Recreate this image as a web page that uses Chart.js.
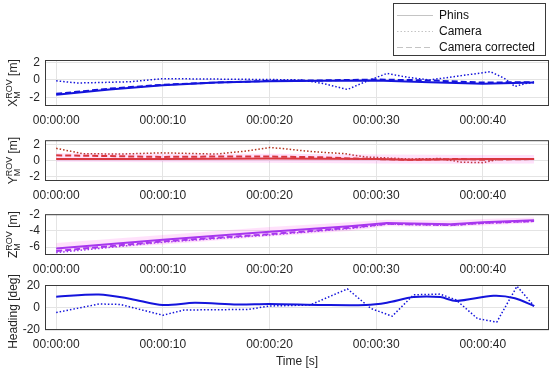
<!DOCTYPE html>
<html>
<head>
<meta charset="utf-8">
<script src="https://cdn.jsdelivr.net/npm/chart.js@4.4.0/dist/chart.umd.min.js"></script>
<style>
html, body { margin: 0; padding: 0; background: #fff; }
#wrap { position: relative; width: 550px; height: 373px; }
canvas { position: absolute; left: 0; }
</style>
</head>
<body>
<div id="wrap">
  <canvas id="cX" width="550" height="128" style="top:0px"></canvas>
  <canvas id="cY" width="550" height="75" style="top:128px"></canvas>
  <canvas id="cZ" width="550" height="75" style="top:202px"></canvas>
  <canvas id="cH" width="550" height="111" style="top:262px"></canvas>
</div>
<script>
var seriesNames = ['Phins', 'Camera', 'Camera corrected'];
var timeTicks = [0, 10, 20, 30, 40];

// X position
var xTicks = [-2, 0, 2];
var xPhinsT = [0, 5, 10, 15, 20, 25, 30, 35, 40, 44.8];
var xPhins = [-1.7, -1.1, -0.6, -0.3, -0.15, -0.1, -0.05, -0.25, -0.45, -0.3];
var xCorr = [-1.6, -1.0, -0.55, -0.3, -0.1, -0.05, 0.05, -0.05, -0.3, -0.25];
var xCamT = [0, 2, 4, 7, 10, 15, 20, 23, 25, 27.3, 29, 31, 33, 35, 38, 40.7, 42, 43, 44, 44.8];
var xCam = [-0.1, -0.35, -0.3, -0.2, 0.15, 0.1, 0.05, 0, -0.4, -1.1, -0.2, 0.75, 0.3, 0, 0.5, 0.95, 0.2, -0.75, -0.4, -0.3];

// Y position
var yTicks = [-2, 0, 2];
var yPhinsT = [0, 10, 20, 30, 33, 40, 44.8];
var yPhins = [0.2, 0.2, 0.25, 0.2, 0.1, 0.2, 0.2];
var yCorrT = [0, 5, 10, 15, 20, 25, 28, 33, 38, 40, 44.8];
var yCorr = [0.65, 0.55, 0.45, 0.5, 0.5, 0.4, 0.25, 0.1, 0.2, 0.1, 0.2];
var yCamT = [0, 2.5, 6, 10, 15, 18, 20, 21, 24, 27, 29, 33, 36, 38, 40, 41.4, 44.8];
var yCam = [1.5, 0.85, 0.8, 0.95, 0.8, 1.2, 1.6, 1.5, 1.1, 0.85, 0.45, 0.2, 0.25, -0.2, -0.25, 0.15, 0.2];
var yBandT = [0, 10, 20, 30, 40, 44.8];
var yBandHi = [0.9, 0.85, 0.85, 0.75, 0.7, 0.7];
var yBandLo = [-0.15, -0.2, -0.25, -0.35, -0.4, -0.35];

// Z position
var zTicks = [-6, -4, -2];
var zT = [0, 10, 20, 27.5, 31, 37, 40, 44.8];
var zPhins = [-6.2, -5.1, -4.1, -3.4, -3.0, -3.15, -2.9, -2.65];
var zCorr = [-6.5, -5.3, -4.4, -3.6, -3.1, -3.25, -3.0, -2.75];
var zCam = [-6.7, -5.4, -4.5, -3.7, -3.15, -3.3, -3.05, -2.8];
var zBandHi = [-5.5, -4.5, -3.5, -2.9, -2.6, -2.7, -2.5, -2.3];
var zBandLo = [-6.6, -5.7, -4.7, -4.0, -3.4, -3.5, -3.3, -3.0];

// Heading
var hTicks = [-20, 0, 20];
var hPhinsT = [0, 4, 7, 10, 13, 17, 20, 25, 29, 31, 33.5, 36, 37.5, 41, 43, 44.8];
var hPhins = [10, 12, 8, 2.5, 4.5, 3, 3.4, 2.5, 2.5, 4.6, 9.6, 9.6, 6.2, 10.8, 8.6, 1.6];
var hCamT = [0, 4, 6, 10, 12, 18, 20, 23.8, 27.3, 29.5, 31.5, 33.5, 36, 37.5, 39.5, 41.3, 43.2, 44.8];
var hCam = [-4.3, 3.4, 3, -6.7, -2, -1.5, 1.6, 2.5, 17, -0.6, -7.6, 11.7, 12.3, 7, -9.8, -12.9, 19.4, 1.6];

Chart.defaults.font.family = '"Liberation Sans", Arial, sans-serif';
Chart.defaults.font.size = 12;
Chart.defaults.color = '#262626';

function pts(t, v) {
    return t.map(function(x, i) { return {x: x, y: v[i]}; });
}

var dotted = [1.5, 2];
var dashed = [6, 3];
var bandColor = 'rgba(255, 80, 230, 0.17)';

var boxPlugin = {
    id: 'box',
    afterDraw: function(chart) {
        var a = chart.chartArea, ctx = chart.ctx;
        ctx.save();
        ctx.strokeStyle = '#3a3a3a';
        ctx.lineWidth = 1;
        ctx.strokeRect(a.left + 0.5, a.top + 0.5, a.right - a.left - 1, a.bottom - a.top - 1);
        ctx.restore();
    }
};

var yLabelPlugin = {
    id: 'ylab',
    afterDraw: function(chart, args, o) {
        if (!o || !o.main) return;
        var ctx = chart.ctx, a = chart.chartArea;
        var big = '12px "Liberation Sans", Arial, sans-serif';
        var small = '9px "Liberation Sans", Arial, sans-serif';
        ctx.save();
        ctx.fillStyle = '#262626';
        ctx.translate(14, (a.top + a.bottom) / 2 + (o.shift || 0));
        ctx.rotate(-Math.PI / 2);
        ctx.textBaseline = 'alphabetic';
        ctx.font = big;
        var wMain = ctx.measureText(o.main).width;
        var wUnit = ctx.measureText(o.unit || '').width;
        ctx.font = small;
        var wSm = Math.max(ctx.measureText(o.sup || '').width, ctx.measureText(o.sub || '').width);
        var x = -(wMain + wSm + wUnit) / 2;
        ctx.font = big;
        ctx.fillText(o.main, x, 3);
        x += wMain;
        ctx.font = small;
        if (o.sup) ctx.fillText(o.sup, x, -2);
        if (o.sub) ctx.fillText(o.sub, x, 5.5);
        x += wSm;
        ctx.font = big;
        if (o.unit) ctx.fillText(o.unit, x, 3);
        ctx.restore();
    }
};

var legendPlugin = {
    id: 'boxLegend',
    afterDraw: function(chart, args, o) {
        if (!o || !o.show) return;
        var ctx = chart.ctx;
        ctx.save();
        ctx.fillStyle = '#fff';
        ctx.fillRect(393, 3, 152, 52);
        ctx.strokeStyle = '#3a3a3a';
        ctx.lineWidth = 1;
        ctx.strokeRect(393.5, 3.5, 152, 52);
        var dashes = [[], dotted, dashed];
        ctx.font = '12px "Liberation Sans", Arial, sans-serif';
        ctx.textBaseline = 'middle';
        for (var i = 0; i < seriesNames.length; i++) {
            var y = 15.5 + i * 16;
            ctx.strokeStyle = '#c4c4c4';
            ctx.setLineDash(dashes[i]);
            ctx.beginPath();
            ctx.moveTo(397, y);
            ctx.lineTo(433, y);
            ctx.stroke();
            ctx.setLineDash([]);
            ctx.fillStyle = '#111';
            ctx.fillText(seriesNames[i], 439, y);
        }
        ctx.restore();
    }
};

function makeChart(id, datasets, yMin, yMax, yTickVals, padTop, xHeight, ylab, withTitle, withLegend) {
    return new Chart(document.getElementById(id).getContext('2d'), {
        type: 'line',
        data: { datasets: datasets },
        options: {
            responsive: false,
            animation: false,
            layout: { padding: { top: padTop, right: 1, left: 0, bottom: 0 } },
            elements: { point: { radius: 0 }, line: { tension: 0 } },
            plugins: {
                legend: { display: false },
                tooltip: { enabled: false },
                ylab: ylab,
                boxLegend: { show: withLegend }
            },
            scales: {
                x: {
                    type: 'linear',
                    min: -1.05,
                    max: 46.2,
                    afterBuildTicks: function(s) { s.ticks = timeTicks.map(function(v) { return {value: v}; }); },
                    afterFit: function(s) { s.height = xHeight; },
                    grid: { color: '#e4e4e4', drawTicks: false },
                    border: { display: false },
                    ticks: {
                        padding: 7,
                        maxRotation: 0,
                        autoSkip: false,
                        callback: function(v) { return '00:00:' + String(v).padStart(2, '0'); }
                    },
                    title: { display: withTitle, text: 'Time [s]', padding: { top: 2, bottom: 4 } }
                },
                y: {
                    min: yMin,
                    max: yMax,
                    afterBuildTicks: function(s) { s.ticks = yTickVals.map(function(v) { return {value: v}; }); },
                    afterFit: function(s) { s.width = 45; },
                    grid: { color: '#e4e4e4', drawTicks: false },
                    border: { display: false },
                    ticks: { padding: 5 }
                }
            }
        },
        plugins: [boxPlugin, yLabelPlugin, legendPlugin]
    });
}

var blue = '#1414dc';
var red = '#d2321e';
var redDark = '#b4321e';
var purple = '#9632f0';

makeChart('cX', [
    { label: seriesNames[0], data: pts(xPhinsT, xPhins), borderColor: blue, borderWidth: 2 },
    { label: seriesNames[1], data: pts(xCamT, xCam), borderColor: blue, borderWidth: 1.5, borderDash: dotted },
    { label: seriesNames[2], data: pts(xPhinsT, xCorr), borderColor: blue, borderWidth: 2, borderDash: dashed }
], -3, 2.3, xTicks, 60, 22, { main: 'X', sup: 'ROV', sub: 'M', unit: ' [m]' }, false, true);

makeChart('cY', [
    { label: 'band hi', data: pts(yBandT, yBandHi), borderWidth: 0, borderColor: 'transparent', backgroundColor: bandColor, fill: false },
    { label: 'band lo', data: pts(yBandT, yBandLo), borderWidth: 0, borderColor: 'transparent', backgroundColor: bandColor, fill: '-1' },
    { label: seriesNames[0], data: pts(yPhinsT, yPhins), borderColor: red, borderWidth: 2 },
    { label: seriesNames[1], data: pts(yCamT, yCam), borderColor: redDark, borderWidth: 1.5, borderDash: dotted },
    { label: seriesNames[2], data: pts(yCorrT, yCorr), borderColor: red, borderWidth: 2, borderDash: dashed }
], -2.5, 2.5, yTicks, 8, 22, { main: 'Y', sup: 'ROV', sub: 'M', unit: ' [m]' }, false, false);

makeChart('cZ', [
    { label: 'band hi', data: pts(zT, zBandHi), borderWidth: 0, borderColor: 'transparent', backgroundColor: bandColor, fill: false },
    { label: 'band lo', data: pts(zT, zBandLo), borderWidth: 0, borderColor: 'transparent', backgroundColor: bandColor, fill: '-1' },
    { label: seriesNames[0], data: pts(zT, zPhins), borderColor: purple, borderWidth: 2 },
    { label: seriesNames[1], data: pts(zT, zCam), borderColor: purple, borderWidth: 1.5, borderDash: dotted },
    { label: seriesNames[2], data: pts(zT, zCorr), borderColor: purple, borderWidth: 2, borderDash: dashed }
], -7, -1.9, zTicks, 8, 22, { main: 'Z', sup: 'ROV', sub: 'M', unit: ' [m]' }, false, false);

makeChart('cH', [
    { label: seriesNames[0], data: pts(hPhinsT, hPhins), borderColor: blue, borderWidth: 2, tension: 0.3 },
    { label: seriesNames[1], data: pts(hCamT, hCam), borderColor: blue, borderWidth: 1.5, borderDash: dotted }
], -20, 20.5, hTicks, 23, 43, { main: 'Heading [deg]', shift: 4 }, true, false);
</script>
</body>
</html>
